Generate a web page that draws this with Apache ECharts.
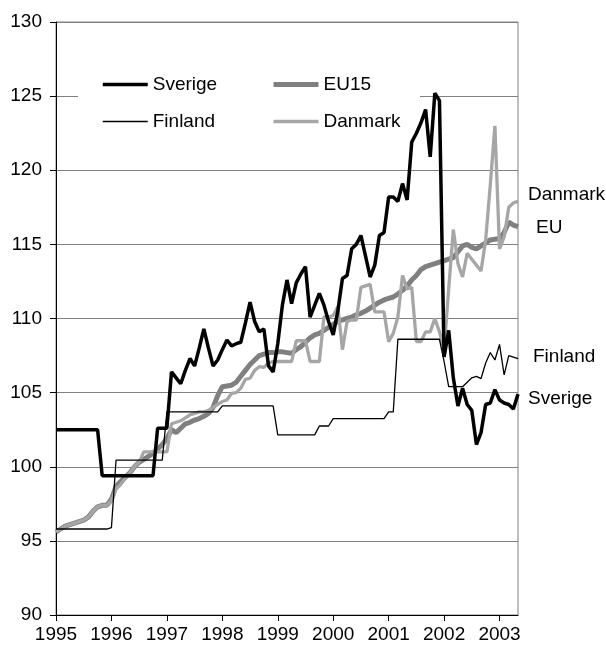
<!DOCTYPE html>
<html>
<head>
<meta charset="utf-8">
<title>Sverige, Finland, Danmark, EU15</title>
<script src="https://cdn.jsdelivr.net/npm/echarts@6/dist/echarts.min.js"></script>
<style>
  html, body { margin: 0; padding: 0; background: #fff; }
  #chart { width: 606px; height: 653px; }
</style>
</head>
<body>
<div id="chart"></div>
<script>
// månadsvärden från jan 1995
var startYear = 1995
var monthCount = 101
var yearLabels = ['1995', '1996', '1997', '1998', '1999', '2000', '2001', '2002', '2003']

var sverige = [
  102.5, 102.5, 102.5, 102.5, 102.5, 102.5, 102.5, 102.5, 102.5, 102.5, 99.4, 99.4,
  99.4, 99.4, 99.4, 99.4, 99.4, 99.4, 99.4, 99.4, 99.4, 99.4, 102.6, 102.6,
  102.6, 106.4, 106.0, 105.6, 106.5, 107.3, 106.8, 108.0, 109.3, 108.0, 106.8, 107.2,
  107.9, 108.55, 108.15, 108.3, 108.4, 109.7, 111.1, 109.8, 109.1, 109.3, 106.8, 106.4,
  108.3, 110.9, 112.6, 111.0, 112.4, 113.0, 113.5, 110.1, 110.9, 111.7, 110.9, 109.8,
  108.9, 110.5, 112.7, 112.9, 114.7, 115.0, 115.6, 114.2, 112.8, 113.6, 115.6, 115.8,
  118.2, 118.2, 117.9, 119.1, 118.0, 121.9, 122.5, 123.2, 124.1, 120.9, 125.2, 124.7,
  107.4, 109.2, 106.0, 104.1, 105.3, 104.2, 103.8, 101.5, 102.3, 104.2, 104.3, 105.2,
  104.5, 104.3, 104.2, 103.9, 104.9
]

var eu15 = [
  95.6, 95.8, 96.0, 96.1, 96.2, 96.3, 96.4, 96.6, 97.0, 97.3, 97.4, 97.4,
  97.8, 98.7, 99.0, 99.3, 99.6, 100.0, 100.3, 100.5, 100.7, 100.9, 101.2, 101.5,
  101.9, 102.5, 102.3, 102.6, 102.9, 103.0, 103.15, 103.25, 103.4, 103.6, 104.0, 104.8,
  105.4, 105.45, 105.5, 105.7, 106.1, 106.5, 106.9, 107.2, 107.5, 107.6, 107.7, 107.7,
  107.75, 107.75, 107.7, 107.65, 107.9, 108.1, 108.4, 108.7, 108.9, 109.0, 109.2, 109.4,
  109.6, 109.8, 109.9, 110.0, 110.1, 110.25, 110.35, 110.5, 110.7, 110.9, 111.1, 111.25,
  111.35, 111.45, 111.65, 111.9, 112.2, 112.6, 112.9, 113.3, 113.5, 113.6, 113.7, 113.8,
  113.9, 114.0, 114.1, 114.5, 114.9, 115.0, 114.8, 114.7, 114.9, 115.1, 115.3, 115.35,
  115.4, 115.8, 116.5, 116.3, 116.2
]

var finland = [
  95.8, 95.8, 95.8, 95.8, 95.8, 95.8, 95.8, 95.8, 95.8, 95.8, 95.8, 95.8,
  95.9, 100.45, 100.45, 100.45, 100.45, 100.45, 100.45, 100.45, 100.45, 100.45, 100.45, 100.45,
  103.7, 103.7, 103.7, 103.7, 103.7, 103.7, 103.7, 103.7, 103.7, 103.7, 103.7, 103.7,
  104.1, 104.1, 104.1, 104.1, 104.1, 104.1, 104.1, 104.1, 104.1, 104.1, 104.1, 104.1,
  102.15, 102.15, 102.15, 102.15, 102.15, 102.15, 102.15, 102.15, 102.15, 102.75, 102.75, 102.75,
  103.25, 103.25, 103.25, 103.25, 103.25, 103.25, 103.25, 103.25, 103.25, 103.25, 103.25, 103.25,
  103.7, 103.7, 108.6, 108.6, 108.6, 108.6, 108.6, 108.6, 108.6, 108.6, 108.6, 108.6,
  107.1, 105.4, 105.4, 105.4, 105.4, 105.7, 106.0, 106.1, 105.95, 107.0, 107.7, 107.2,
  108.25, 106.2, 107.5, 107.4, 107.3
]

var danmark = [
  95.6, 95.8, 96.0, 96.1, 96.2, 96.3, 96.4, 96.6, 97.0, 97.3, 97.4, 97.4,
  97.7, 98.5, 98.8, 99.2, 99.6, 100.0, 100.3, 101.0, 101.0, 101.0, 101.0, 101.0,
  101.0, 102.9, 103.0, 103.1, 103.3, 103.5, 103.6, 103.7, 103.7, 103.8, 104.0, 104.2,
  104.4, 104.5, 104.95, 105.0, 105.3, 105.9, 105.97, 106.5, 106.75, 106.7, 107.0, 107.1,
  107.1, 107.1, 107.1, 107.1, 108.5, 108.5, 108.5, 107.1, 107.1, 107.1, 110.1, 110.1,
  110.2, 110.8, 107.9, 109.8, 109.9, 109.9, 112.1, 112.2, 112.3, 110.45, 110.45, 110.45,
  108.44, 109.0, 110.1, 112.9, 112.0, 112.1, 108.44, 108.44, 109.1, 109.1, 110.0, 109.1,
  107.9, 112.0, 116.0, 113.7, 112.8, 114.4, 114.0, 113.6, 113.2, 115.3, 119.0, 123.0,
  114.7, 115.5, 117.5, 117.8, 117.9
]

var font = "'Liberation Sans', Arial, sans-serif"

var months = []
for (var i = 0; i < monthCount; i++) {
  months.push((startYear + Math.floor(i / 12)) + '-' + (i % 12 + 1))
}

function isYear (index) {
  return index % 12 === 0
}

function endLabel (text, left, top) {
  return {
    type: 'text',
    left: left,
    top: top,
    z: 10,
    style: { text: text, fill: '#000', fontSize: 19, fontFamily: font }
  }
}

// legend utan symbol, bara linjen
var legendBase = {
  orient: 'vertical',
  top: 75,
  padding: 0,
  itemWidth: 45,
  itemHeight: 19,
  itemGap: 18,
  lineStyle: { width: 'inherit' },
  itemStyle: { color: 'rgba(0,0,0,0)', borderColor: 'rgba(0,0,0,0)', borderWidth: 0 },
  textStyle: { color: '#000', fontSize: 19, fontFamily: font }
}

var chart = echarts.init(document.getElementById('chart'))

var option = {
  animation: false,
  backgroundColor: '#fff',
  textStyle: { fontFamily: font },
  grid: {
    left: 56,
    right: 88,
    top: 22,
    bottom: 38,
    show: true,
    borderColor: '#808080',
    borderWidth: 1,
    outerBoundsMode: 'none'
  },
  legend: [
    Object.assign({}, legendBase, { left: 101, data: ['Sverige', 'Finland'] }),
    Object.assign({}, legendBase, { left: 271, data: ['EU15', 'Danmark'] })
  ],
  graphic: [
    {
      type: 'rect',
      left: 78,
      top: 62,
      z: 3,
      shape: { width: 342, height: 79 },
      style: { fill: '#fff' }
    },
    endLabel('Danmark', 528, 185),
    endLabel('EU', 536, 218),
    endLabel('Finland', 533, 347),
    endLabel('Sverige', 528, 389)
  ],
  xAxis: {
    type: 'category',
    data: months,
    boundaryGap: false,
    axisLine: { lineStyle: { color: '#000', width: 1 } },
    axisTick: { interval: isYear, length: 6, lineStyle: { color: '#000' } },
    axisLabel: {
      interval: isYear,
      margin: 10,
      color: '#000',
      fontSize: 19,
      fontFamily: font,
      formatter: function (value, index) {
        return isYear(index) ? yearLabels[index / 12] : ''
      }
    },
    splitLine: { show: false }
  },
  yAxis: {
    type: 'value',
    min: 90,
    max: 130,
    interval: 5,
    axisLine: { show: true, lineStyle: { color: '#000', width: 1 } },
    axisTick: { show: true, length: 6, lineStyle: { color: '#000' } },
    axisLabel: { margin: 14, color: '#000', fontSize: 19, fontFamily: font },
    splitLine: { lineStyle: { color: '#808080', width: 1 } }
  },
  series: [
    {
      name: 'EU15',
      type: 'line',
      symbol: 'none',
      data: eu15,
      color: '#808080',
      lineStyle: { color: '#808080', width: 5 }
    },
    {
      name: 'Danmark',
      type: 'line',
      symbol: 'none',
      data: danmark,
      color: '#a6a6a6',
      lineStyle: { color: '#a6a6a6', width: 3.3 }
    },
    {
      name: 'Finland',
      type: 'line',
      symbol: 'none',
      data: finland,
      color: '#000',
      lineStyle: { color: '#000', width: 1.3 }
    },
    {
      name: 'Sverige',
      type: 'line',
      symbol: 'none',
      data: sverige,
      color: '#000',
      lineStyle: { color: '#000', width: 3.5 }
    }
  ]
}

chart.setOption(option)
</script>
</body>
</html>
